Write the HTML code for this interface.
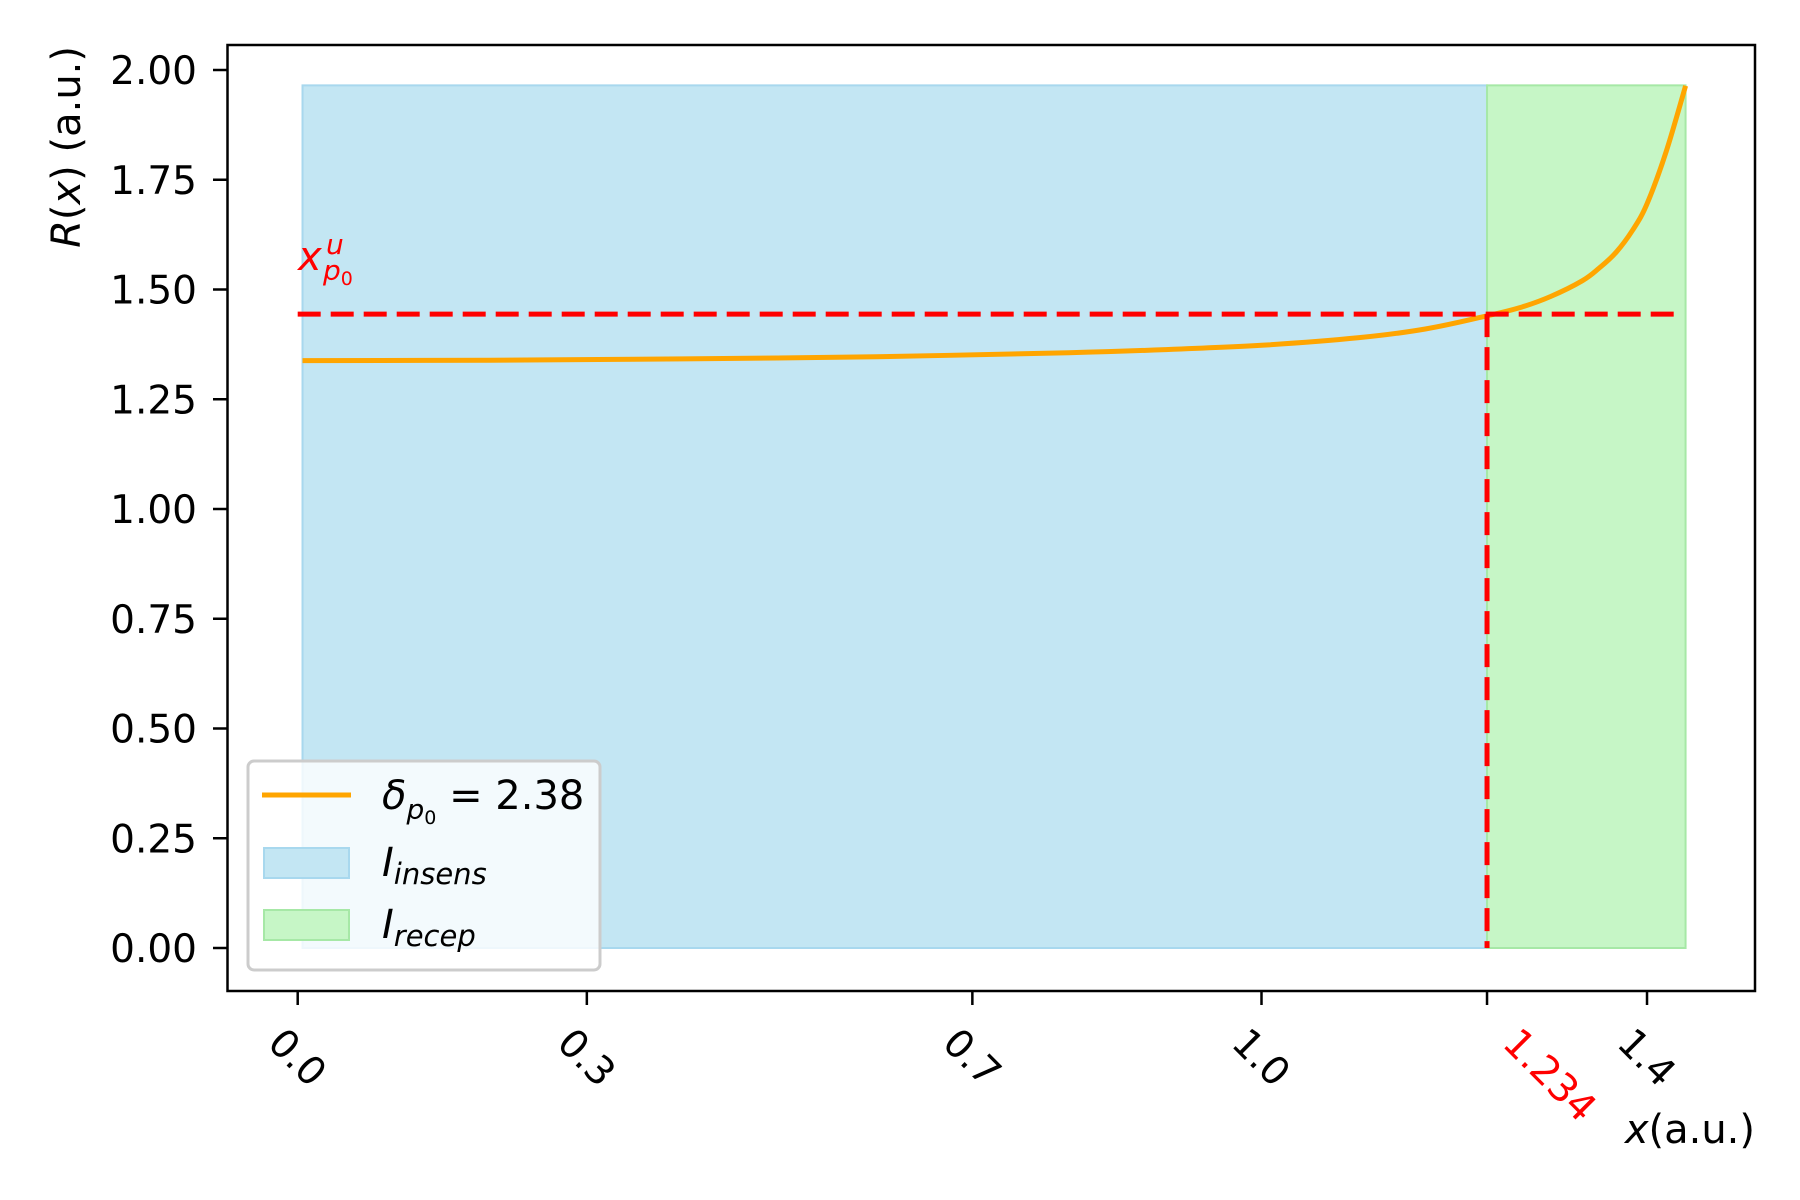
<!DOCTYPE html>
<html><head><meta charset="utf-8"><style>
html,body{margin:0;padding:0;background:#fff;}
svg{display:block;font-family:"DejaVu Sans","Liberation Sans",sans-serif;}
</style></head><body>
<svg id="chart" width="1800" height="1200" viewBox="0 0 1800 1200" xmlns="http://www.w3.org/2000/svg">
<rect x="0" y="0" width="1800" height="1200" fill="#fff"/>
<g id="plot"></g>
</svg>
<script>
const curveX = [0.005, 0.2, 0.4, 0.6, 0.8, 0.9, 1.0, 1.1, 1.17, 1.234, 1.27, 1.3, 1.333, 1.35, 1.368, 1.385, 1.4, 1.42, 1.44];
const curveY = [1.338, 1.339, 1.342, 1.347, 1.356, 1.363, 1.373, 1.390, 1.410, 1.440, 1.460, 1.484, 1.520, 1.548, 1.585, 1.635, 1.695, 1.815, 1.964];
const yTicks = [0, 0.25, 0.5, 0.75, 1.0, 1.25, 1.5, 1.75, 2.0];
const yTickLabels = ["0.00","0.25","0.50","0.75","1.00","1.25","1.50","1.75","2.00"];
const xTicks = [0.0, 0.3, 0.7, 1.0, 1.4];
const xTickLabels = ["0.0","0.3","0.7","1.0","1.4"];
const threshX = [1.234];
const threshY = [1.444];
const regionInsens = [0.005, 1.234];
const regionRecep = [1.234, 1.44];
const regionTop = [1.965];

const X = v => 297.7 + v * 963.8;
const Y = v => 948 - v * 439;
const NS = "http://www.w3.org/2000/svg";
const plot = document.getElementById('plot');
function mk(tag, attrs, parent) {
  const e = document.createElementNS(NS, tag);
  for (const k in attrs) e.setAttribute(k, attrs[k]);
  (parent || plot).appendChild(e);
  return e;
}

const r1 = mk('rect', {x: X(regionInsens[0]), y: Y(regionTop[0]), width: X(regionInsens[1]) - X(regionInsens[0]), height: Y(0) - Y(regionTop[0]), fill: '#c3e6f3', stroke: '#a8d8ee', 'stroke-width': 2});


const r2 = mk('rect', {x: X(regionRecep[0]), y: Y(regionTop[0]), width: X(regionRecep[1]) - X(regionRecep[0]), height: Y(0) - Y(regionTop[0]), fill: '#c6f6c6', stroke: '#a6e8a6', 'stroke-width': 2});



const P = curveX.map((x, i) => [X(x), Y(curveY[i])]);
let d = 'M' + P[0][0].toFixed(1) + ',' + P[0][1].toFixed(1);
for (let i = 0; i < P.length - 1; i++) {
  const p0 = P[Math.max(0, i - 1)], p1 = P[i], p2 = P[i + 1], p3 = P[Math.min(P.length - 1, i + 2)];
  const c1 = [p1[0] + (p2[0] - p0[0]) / 6, p1[1] + (p2[1] - p0[1]) / 6];
  const c2 = [p2[0] - (p3[0] - p1[0]) / 6, p2[1] - (p3[1] - p1[1]) / 6];
  d += ' C' + c1.map(v => v.toFixed(1)).join(',') + ' ' + c2.map(v => v.toFixed(1)).join(',') + ' ' + p2.map(v => v.toFixed(1)).join(',');
}
const cl = mk('path', {d: d, fill: 'none', stroke: '#ffa500', 'stroke-width': 5, 'stroke-linejoin': 'round'});



const hl = mk('line', {x1: X(0), x2: X(1.436), y1: Y(threshY[0]), y2: Y(threshY[0]), stroke: '#ff0000', 'stroke-width': 5, 'stroke-dasharray': '23,10'});


const vl = mk('line', {x1: X(threshX[0]), x2: X(threshX[0]), y1: Y(threshY[0]), y2: Y(0), stroke: '#ff0000', 'stroke-width': 5, 'stroke-dasharray': '23,10'});



const fr = mk('rect', {x: 227.5, y: 45, width: 1527.5, height: 946, fill: 'none', stroke: '#000', 'stroke-width': 2.5});



yTicks.forEach((v, i) => {
  const t = mk('line', {x1: 213, x2: 227.5, y1: Y(v), y2: Y(v), stroke: '#000', 'stroke-width': 2.5});
  
  
  const l = mk('text', {x: 197, y: Y(v) + 14, 'text-anchor': 'end', 'font-size': 39, fill: '#000'});
  
  
  l.textContent = yTickLabels[i];
});

function xLabel(txt, tx, color, centered) {
  const t = mk('line', {x1: tx, x2: tx, y1: 991, y2: 1005, stroke: '#000', 'stroke-width': 2.5});
  
  
  const L = txt.length * 20.5;
  const w = (L + 28) * 0.707;
  const bx = centered ? tx - w / 2 : tx + 14;
  const by = 1045;
  const l = mk('text', {x: bx, y: by, 'font-size': 39, fill: color, transform: 'rotate(45 ' + bx + ' ' + by + ')'});
  
  
  l.textContent = txt;
}
xTicks.forEach((v, i) => xLabel(xTickLabels[i], X(v), '#000', true));
xLabel(threshX[0].toFixed(3), X(threshX[0]), '#ff0000', false);

const xl = mk('text', {x: 1755, y: 1143, 'text-anchor': 'end', 'font-size': 40, fill: '#000'});


xl.innerHTML = '<tspan font-style="italic">x</tspan>(a.u.)';
const yl = mk('text', {x: 0, y: 0, 'text-anchor': 'end', 'font-size': 40, fill: '#000', transform: 'translate(80 46) rotate(-90)'});


yl.innerHTML = '<tspan font-style="italic">R</tspan>(<tspan font-style="italic">x</tspan>) (a.u.)';

const an = mk('text', {x: 298, y: 270, 'font-size': 40, fill: '#ff0000', 'font-style': 'italic'});


an.innerHTML = 'x<tspan font-size="28" x="326" y="254">u</tspan><tspan font-size="28" x="323" y="280">p</tspan><tspan font-size="19" font-style="normal" y="285">0</tspan>';

const lg = mk('g', {});


const lb = mk('rect', {x: 248, y: 761, width: 352, height: 209, rx: 6, fill: '#ffffff', 'fill-opacity': 0.8, stroke: '#cccccc', 'stroke-width': 3}, lg);


const e1 = mk('line', {x1: 262, x2: 351, y1: 795, y2: 795, stroke: '#ffa500', 'stroke-width': 5}, lg);


const t1 = mk('text', {x: 382, y: 809, 'font-size': 40, fill: '#000'}, lg);


t1.innerHTML = '<tspan font-style="italic">δ</tspan><tspan font-style="italic" font-size="28" dy="10">p</tspan><tspan font-size="19" dy="5">0</tspan><tspan dy="-15"> = 2.38</tspan>';
const p2 = mk('rect', {x: 264, y: 848, width: 85, height: 30, fill: '#c3e6f3', stroke: '#a8d8ee', 'stroke-width': 2}, lg);


const t2 = mk('text', {x: 382, y: 876, 'font-size': 40, fill: '#000', 'font-style': 'italic'}, lg);


t2.innerHTML = 'I<tspan font-size="29" dy="8">insens</tspan>';
const p3 = mk('rect', {x: 264, y: 910, width: 85, height: 30, fill: '#c6f6c6', stroke: '#a6e8a6', 'stroke-width': 2}, lg);


const t3 = mk('text', {x: 382, y: 938, 'font-size': 40, fill: '#000', 'font-style': 'italic'}, lg);


t3.innerHTML = 'I<tspan font-size="29" dy="8">recep</tspan>';
</script>
</body></html>
